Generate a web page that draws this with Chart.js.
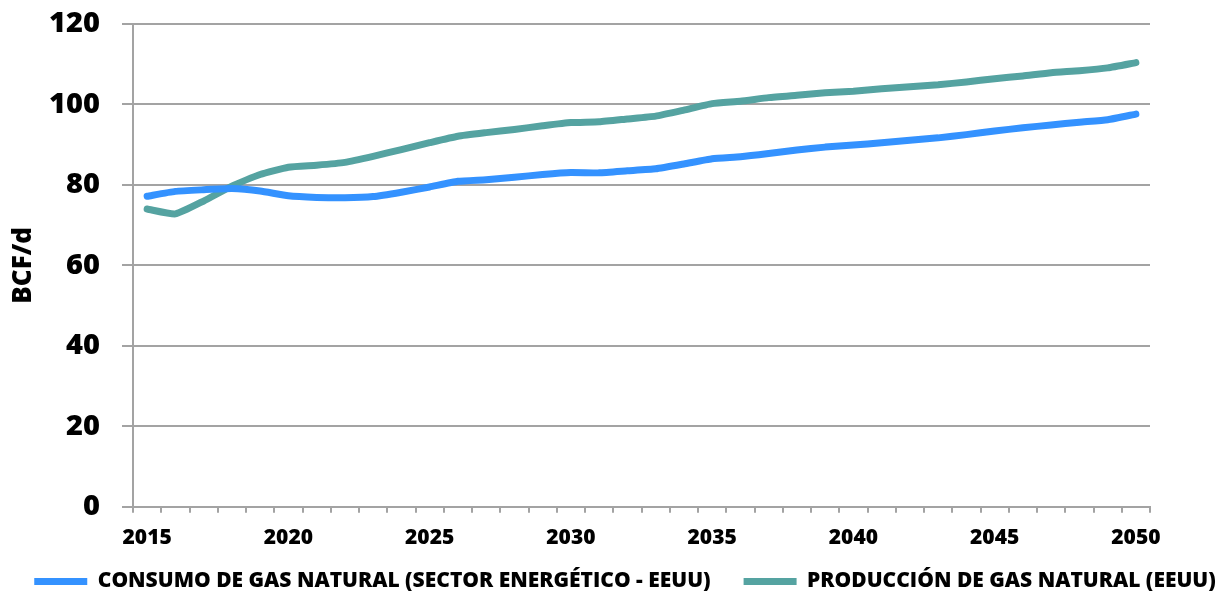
<!DOCTYPE html>
<html>
<head>
<meta charset="utf-8">
<script src="https://cdn.jsdelivr.net/npm/chart.js@4/dist/chart.umd.min.js"></script>
<style>
  html, body { margin: 0; padding: 0; background: #ffffff; }
  #chart { display: block; }
</style>
</head>
<body>
<canvas id="chart" width="1228" height="591"></canvas>
<script>
// Años de la proyección
const years = [];
for (let y = 2015; y <= 2050; y++) years.push(String(y));

// Consumo de gas natural del sector energético (BCF/d)
const consumo = [77.2, 78.4, 78.8, 79.1, 78.5, 77.3, 76.9, 76.8, 77.1, 78.2,
                 79.5, 80.9, 81.3, 81.9, 82.6, 83.1, 83.0, 83.5, 84.0, 85.2,
                 86.5, 87.0, 87.8, 88.7, 89.4, 89.9, 90.5, 91.1, 91.7, 92.5,
                 93.4, 94.2, 94.9, 95.6, 96.2, 97.6];

// Producción de gas natural (BCF/d)
const produccion = [74.0, 72.8, 76.0, 79.7, 82.6, 84.4, 84.9, 85.6, 87.1, 88.8,
                    90.5, 92.1, 93.0, 93.8, 94.7, 95.5, 95.7, 96.4, 97.1, 98.6,
                    100.2, 100.8, 101.7, 102.3, 102.9, 103.3, 103.9, 104.4, 104.9, 105.6,
                    106.4, 107.1, 107.9, 108.4, 109.1, 110.4];

const seriesNames = ['CONSUMO DE GAS NATURAL (SECTOR ENERGÉTICO - EEUU)',
                     'PRODUCCIÓN DE GAS NATURAL (EEUU)'];
const yTicks = [0, 20, 40, 60, 80, 100, 120];

const FONT = "'Open Sans', 'Noto Sans', sans-serif";
const GRID = '#a3a3a3';

// Sube la leyenda hacia el eje X y la desplaza un poco a la derecha
const legendNudge = {
  id: 'legendNudge',
  afterLayout(chart) {
    const lg = chart.legend;
    if (!lg) return;
    const dy = 26, dx = 11;
    lg.top -= dy; lg.bottom -= dy;
    lg.left += dx; lg.right += dx;
  }
};

new Chart(document.getElementById('chart'), {
  type: 'line',
  data: {
    labels: years,
    datasets: [
      {
        label: seriesNames[0],
        data: consumo,
        borderColor: '#3492ff',
        backgroundColor: '#3492ff',
        borderWidth: 7,
        borderCapStyle: 'round',
        borderJoinStyle: 'round',
        pointRadius: 0,
        tension: 0.15,
        fill: false
      },
      {
        label: seriesNames[1],
        data: produccion,
        borderColor: '#55a3a1',
        backgroundColor: '#55a3a1',
        borderWidth: 7,
        borderCapStyle: 'round',
        borderJoinStyle: 'round',
        pointRadius: 0,
        tension: 0.15,
        fill: false
      }
    ]
  },
  plugins: [legendNudge],
  options: {
    responsive: false,
    animation: false,
    devicePixelRatio: 1,
    layout: { padding: { left: -20, right: -20, top: 24, bottom: -37 } },
    plugins: {
      tooltip: { enabled: false },
      legend: {
        position: 'bottom',
        labels: {
          usePointStyle: true,
          pointStyle: 'line',
          pointStyleWidth: 53,
          padding: 33,
          color: '#000',
          font: { family: FONT, size: 21, weight: 800 }
        }
      }
    },
    scales: {
      x: {
        type: 'category',
        offset: true,
        border: { display: true, color: GRID, width: 2 },
        grid: {
          offset: true,
          drawOnChartArea: false,
          drawTicks: true,
          tickLength: 6,
          color: GRID,
          lineWidth: 2
        },
        ticks: {
          autoSkip: false,
          maxRotation: 0,
          padding: 13,
          color: '#000',
          font: { family: FONT, size: 21, weight: 800 },
          callback: function (val, idx) {
            return idx % 5 === 0 ? this.getLabelForValue(val) : '';
          }
        }
      },
      y: {
        min: 0,
        max: 120,
        afterBuildTicks: (axis) => { axis.ticks = yTicks.map(v => ({ value: v })); },
        afterFit: (axis) => { axis.width = 153; },
        border: { display: true, color: GRID, width: 2 },
        grid: {
          color: GRID,
          lineWidth: 2,
          tickLength: 11
        },
        ticks: {
          padding: 22,
          color: '#000',
          font: { family: FONT, size: 29, weight: 800, lineHeight: 0.1 }
        },
        title: {
          display: true,
          text: 'BCF/d',
          color: '#000',
          padding: { top: 28, bottom: 8 },
          font: { family: FONT, size: 26, weight: 800 }
        }
      },
      // margen derecho del área de trazado
      yMargin: {
        position: 'right',
        display: true,
        afterFit: (axis) => { axis.width = 98; },
        grid: { display: false },
        border: { display: false },
        ticks: { display: false }
      }
    }
  }
});
</script>
</body>
</html>
